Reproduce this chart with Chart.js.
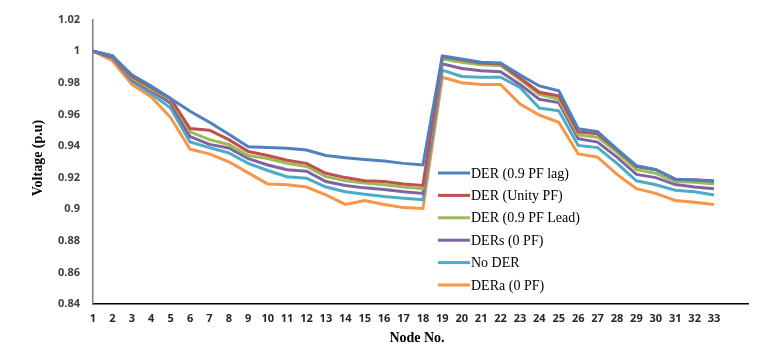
<!DOCTYPE html>
<html>
<head>
<meta charset="utf-8">
<script src="https://cdn.jsdelivr.net/npm/chart.js@4"></script>
<style>
  html, body { margin: 0; padding: 0; background: #fff; }
  #wrap { width: 766px; height: 364px; }
</style>
</head>
<body>
<div id="wrap"><canvas id="voltageChart"></canvas></div>
<script>
// Node numbers along x
const nodes = [1,2,3,4,5,6,7,8,9,10,11,12,13,14,15,16,17,18,19,20,21,22,23,24,25,26,27,28,29,30,31,32,33];

// Voltage profiles (p.u)
const derLag = [1.000,0.997,0.985,0.978,0.970,0.962,0.955,0.9475,0.9395,0.939,0.9385,0.9375,0.934,0.9325,0.9315,0.9305,0.929,0.928,
  0.997,0.995,0.993,0.9925,0.985,0.978,0.975,0.951,0.949,0.938,0.9275,0.925,0.919,0.9187,0.9175];
const derUnity = [1.000,0.997,0.984,0.977,0.970,0.951,0.950,0.944,0.9365,0.934,0.931,0.929,0.9227,0.920,0.918,0.9175,0.916,0.915,
  0.9965,0.9946,0.9925,0.992,0.983,0.974,0.9717,0.949,0.9477,0.9375,0.927,0.925,0.919,0.9185,0.918];
const derLead = [1.000,0.997,0.983,0.976,0.9695,0.949,0.944,0.941,0.934,0.932,0.929,0.927,0.9206,0.918,0.9165,0.9155,0.914,0.913,
  0.995,0.993,0.9915,0.991,0.982,0.9727,0.9696,0.947,0.9456,0.936,0.925,0.9227,0.9175,0.917,0.916];
const dersZero = [1.000,0.996,0.982,0.975,0.967,0.946,0.941,0.9387,0.932,0.928,0.925,0.924,0.9175,0.915,0.9135,0.9125,0.911,0.910,
  0.992,0.989,0.9877,0.987,0.979,0.9696,0.9675,0.9446,0.9425,0.933,0.922,0.920,0.9156,0.914,0.913];
const noDer = [1.000,0.996,0.981,0.973,0.964,0.9425,0.939,0.9356,0.929,0.9245,0.9206,0.9196,0.914,0.911,0.9095,0.908,0.907,0.906,
  0.988,0.984,0.9835,0.9835,0.977,0.964,0.9623,0.9404,0.939,0.929,0.918,0.9155,0.912,0.911,0.909];
const deraZero = [1.000,0.994,0.979,0.971,0.958,0.938,0.935,0.930,0.923,0.916,0.9155,0.914,0.909,0.903,0.9055,0.903,0.901,0.9005,
  0.9835,0.980,0.979,0.979,0.9665,0.9596,0.955,0.935,0.933,0.922,0.913,0.910,0.9055,0.9044,0.903];

const seriesNames = ["DER (0.9 PF lag)", "DER (Unity PF)", "DER (0.9 PF Lead)", "DERs (0 PF)", "No DER", "DERa (0 PF)"];
const seriesValues = [derLag, derUnity, derLead, dersZero, noDer, deraZero];
const seriesColors = ["#4F81BD", "#C0504D", "#9BBB59", "#8064A2", "#4BACC6", "#F79646"];

const yTicks = [0.84, 0.86, 0.88, 0.9, 0.92, 0.94, 0.96, 0.98, 1, 1.02];

const datasets = seriesValues.map((vals, i) => ({
  label: seriesNames[i],
  data: vals.map((v, j) => ({ x: nodes[j], y: v })),
  borderColor: seriesColors[i],
  backgroundColor: seriesColors[i],
  borderWidth: 3,
  pointRadius: 0,
  tension: 0,
  fill: false
}));

// legend and axis titles drawn on the canvas
const extras = {
  id: 'extras',
  afterDraw(chart) {
    const c = chart.ctx;
    c.save();
    c.fillStyle = '#000';
    c.font = 'bold 14px "Liberation Serif"';
    c.textAlign = 'center';
    c.textBaseline = 'middle';
    c.fillText('Node No.', 417, 338);
    c.translate(38, 158);
    c.rotate(-Math.PI / 2);
    c.fillText('Voltage (p.u)', 0, 0);
    c.restore();

    c.save();
    c.font = '14px "Liberation Serif"';
    c.textAlign = 'left';
    c.textBaseline = 'middle';
    seriesNames.forEach((name, i) => {
      const y = 173 + i * 22.4;
      c.strokeStyle = seriesColors[i];
      c.lineWidth = 3;
      c.beginPath();
      c.moveTo(438, y);
      c.lineTo(470, y);
      c.stroke();
      c.fillStyle = '#000';
      c.fillText(name, 471, y + 1);
    });
    c.restore();
  }
};

new Chart(document.getElementById('voltageChart'), {
  type: 'line',
  data: { datasets: datasets },
  options: {
    responsive: true,
    maintainAspectRatio: false,
    animation: false,
    layout: { padding: { top: 16, right: 18, left: 0, bottom: 0 } },
    plugins: {
      legend: { display: false },
      tooltip: { enabled: false }
    },
    scales: {
      x: {
        type: 'linear',
        min: 1,
        max: 34.75,
        grid: { display: false, drawTicks: false },
        border: { display: true, color: '#000', width: 1.5 },
        afterFit(scale) { scale.height = 60; },
        afterBuildTicks(scale) {
          scale.ticks = nodes.map(n => ({ value: n }));
        },
        ticks: {
          autoSkip: false,
          maxRotation: 0,
          padding: 8,
          color: '#262626',
          font: { family: 'Open Sans', weight: 'bold', size: 11 },
          callback: v => String(v)
        }
      },
      y: {
        min: 0.84,
        max: 1.02,
        grid: { display: false, drawTicks: false },
        border: { display: true, color: '#7f7f7f', width: 1.5 },
        afterFit(scale) { scale.width = 93; },
        afterBuildTicks(scale) {
          scale.ticks = yTicks.map(v => ({ value: v }));
        },
        ticks: {
          padding: 13,
          color: '#404040',
          font: { family: 'Open Sans', weight: 'bold', size: 11 },
          callback: v => String(parseFloat(v.toFixed(2)))
        }
      }
    }
  },
  plugins: [extras]
});
</script>
</body>
</html>
